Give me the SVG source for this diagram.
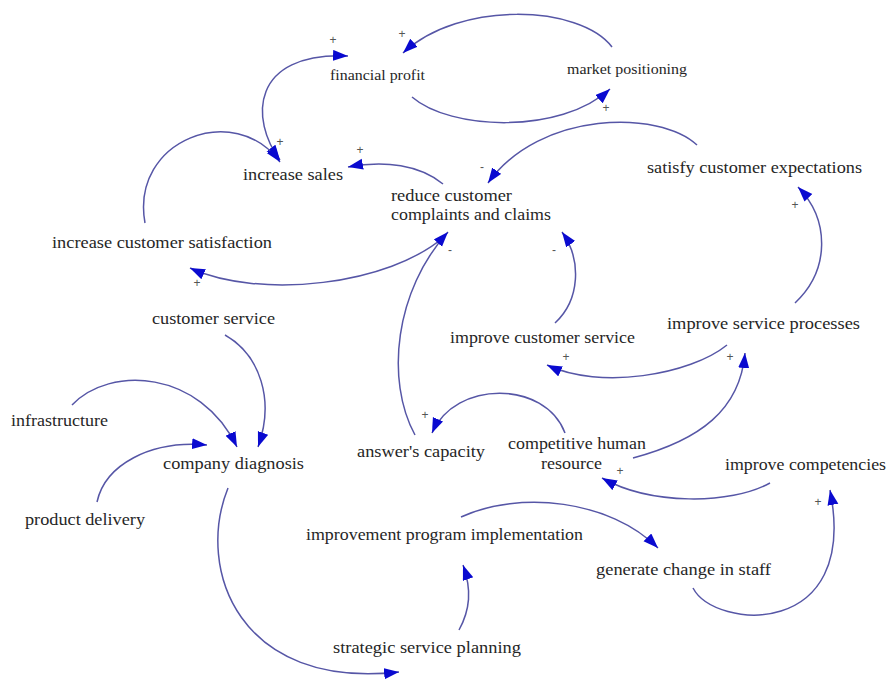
<svg xmlns="http://www.w3.org/2000/svg" width="889" height="680" viewBox="0 0 889 680">
  <style>
    .lbl { font-family: "Liberation Serif", "DejaVu Serif", serif; font-size: 16.5px; fill: #262626; }
    .sm { font-size: 14px; }
    .sign { font-family: "Liberation Sans", Arial, sans-serif; font-size: 12px; fill: #555555; text-anchor: middle; }
    .link { fill: none; stroke: #5656a6; stroke-width: 1.5; marker-end: url(#arr); }
    .both { marker-start: url(#arr); }
  </style>
  <defs>
    <marker id="arr" markerUnits="userSpaceOnUse" markerWidth="18" markerHeight="12" refX="15" refY="5.5" orient="auto-start-reverse">
      <path d="M0,0 L15,5.5 L0,11 Z" fill="#0a0ad0"/>
    </marker>
  </defs>
  <rect width="889" height="680" fill="#ffffff"/>

  <!-- causal links -->
  <g id="connectors">
    <path class="link both" d="M280,160 C250,120 250,52 348,56"/>
    <path class="link" d="M612,47 C580,5 460,0 403,53"/>
    <path class="link" d="M412,97 C450,130 560,135 610,89"/>
    <path class="link" d="M697,145 C660,110 540,110 488,183"/>
    <path class="link" d="M443,184 C420,165 385,160 348,167"/>
    <path class="link" d="M145,223 C130,140 235,100 280,162"/>
    <path class="link" d="M445,236 C390,285 260,300 190,268"/>
    <path class="link" d="M415,435 C385,380 395,290 448,232"/>
    <path class="link" d="M555,323 C580,300 582,260 562,232"/>
    <path class="link" d="M795,303 C830,270 830,220 798,187"/>
    <path class="link" d="M727,345 C690,375 600,390 547,365"/>
    <path class="link" d="M633,458 C700,440 740,410 745,353"/>
    <path class="link" d="M565,433 C545,380 455,380 432,433"/>
    <path class="link" d="M770,483 C730,505 650,505 602,478"/>
    <path class="link" d="M693,588 C715,630 860,640 830,490"/>
    <path class="link" d="M461,517 C520,490 610,500 658,548"/>
    <path class="link" d="M459,630 C470,610 472,590 463,565"/>
    <path class="link" d="M228,488 C195,570 240,690 399,672"/>
    <path class="link" d="M225,335 C260,355 275,400 258,447"/>
    <path class="link" d="M72,405 C110,365 200,370 237,447"/>
    <path class="link" d="M97,502 C105,465 150,440 207,445"/>
  </g>

  <!-- polarity signs -->
  <g id="signs">
    <text class="sign" x="333" y="44">+</text>
    <text class="sign" x="402" y="38">+</text>
    <text class="sign" x="606" y="112">+</text>
    <text class="sign" x="280" y="146">+</text>
    <text class="sign" x="360" y="154">+</text>
    <text class="sign" x="482" y="171">-</text>
    <text class="sign" x="197" y="287">+</text>
    <text class="sign" x="450" y="254">-</text>
    <text class="sign" x="554" y="254">-</text>
    <text class="sign" x="795" y="209">+</text>
    <text class="sign" x="566" y="361">+</text>
    <text class="sign" x="730" y="361">+</text>
    <text class="sign" x="425" y="419">+</text>
    <text class="sign" x="620" y="475">+</text>
    <text class="sign" x="818" y="506">+</text>
  </g>

  <!-- variables -->
  <g id="financial-profit"><text class="lbl sm" x="330" y="80" textLength="95" lengthAdjust="spacingAndGlyphs">financial profit</text></g>
  <g id="market-positioning"><text class="lbl sm" x="567" y="74" textLength="120" lengthAdjust="spacingAndGlyphs">market positioning</text></g>
  <g id="increase-sales"><text class="lbl" x="243" y="180" textLength="100" lengthAdjust="spacingAndGlyphs">increase sales</text></g>
  <g id="reduce-complaints">
    <text class="lbl" x="391" y="201" textLength="121" lengthAdjust="spacingAndGlyphs">reduce customer</text>
    <text class="lbl" x="391" y="220" textLength="160" lengthAdjust="spacingAndGlyphs">complaints and claims</text>
  </g>
  <g id="increase-customer-satisfaction"><text class="lbl" x="52" y="248" textLength="220" lengthAdjust="spacingAndGlyphs">increase customer satisfaction</text></g>
  <g id="satisfy-customer-expectations"><text class="lbl" x="647" y="173" textLength="215" lengthAdjust="spacingAndGlyphs">satisfy customer expectations</text></g>
  <g id="improve-service-processes"><text class="lbl" x="667" y="329" textLength="193" lengthAdjust="spacingAndGlyphs">improve service processes</text></g>
  <g id="improve-customer-service"><text class="lbl" x="450" y="343" textLength="185" lengthAdjust="spacingAndGlyphs">improve customer service</text></g>
  <g id="customer-service"><text class="lbl" x="152" y="324" textLength="123" lengthAdjust="spacingAndGlyphs">customer service</text></g>
  <g id="infrastructure"><text class="lbl" x="11" y="426" textLength="97" lengthAdjust="spacingAndGlyphs">infrastructure</text></g>
  <g id="company-diagnosis"><text class="lbl" x="163" y="469" textLength="141" lengthAdjust="spacingAndGlyphs">company diagnosis</text></g>
  <g id="product-delivery"><text class="lbl" x="25" y="525" textLength="120" lengthAdjust="spacingAndGlyphs">product delivery</text></g>
  <g id="answers-capacity"><text class="lbl" x="357" y="457" textLength="128" lengthAdjust="spacingAndGlyphs">answer's capacity</text></g>
  <g id="competitive-human-resource">
    <text class="lbl" x="508" y="449" textLength="138" lengthAdjust="spacingAndGlyphs">competitive human</text>
    <text class="lbl" x="541" y="469" textLength="61" lengthAdjust="spacingAndGlyphs">resource</text>
  </g>
  <g id="improve-competencies"><text class="lbl" x="725" y="470" textLength="161" lengthAdjust="spacingAndGlyphs">improve competencies</text></g>
  <g id="improvement-program-implementation"><text class="lbl" x="306" y="540" textLength="277" lengthAdjust="spacingAndGlyphs">improvement program implementation</text></g>
  <g id="generate-change-in-staff"><text class="lbl" x="596" y="575" textLength="175" lengthAdjust="spacingAndGlyphs">generate change in staff</text></g>
  <g id="strategic-service-planning"><text class="lbl" x="333" y="653" textLength="188" lengthAdjust="spacingAndGlyphs">strategic service planning</text></g>
</svg>
